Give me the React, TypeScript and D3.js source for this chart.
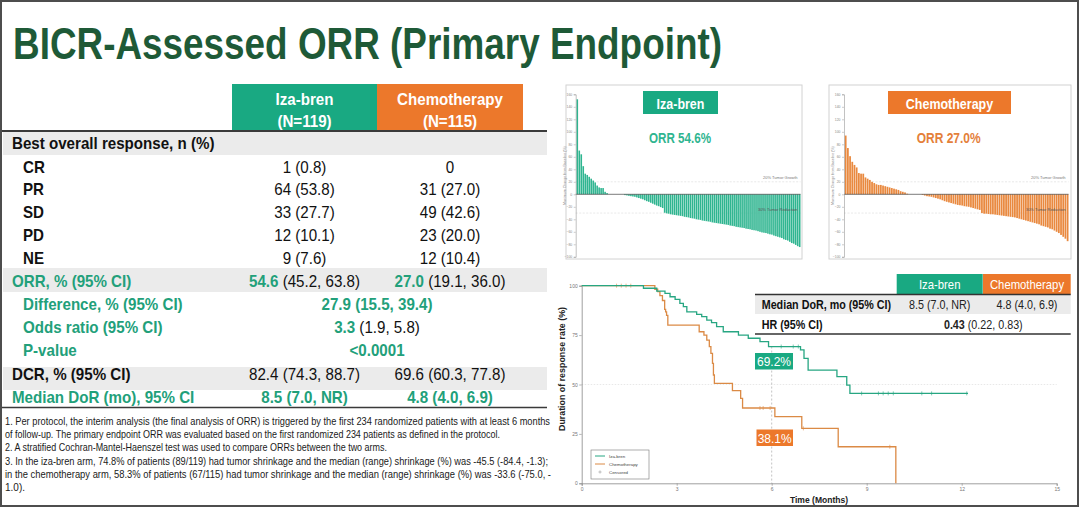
import React, { useEffect, useRef } from "react";
import * as d3 from "d3";

const FONT = "'Liberation Sans', Arial, Helvetica, sans-serif";
const GREEN = "#19a982";
const ORANGE = "#ec782b";
const DARK_GREEN = "#1e5a37";
const TEXT_GREEN = "#22a07a";
const ROW_GRAY = "#ebebeb";
const BAR_GREEN = "#2fb590";
const BAR_ORANGE = "#e9893f";
const KM_GREEN = "#27a682";
const KM_ORANGE = "#db8a45";

// ---- response table ----
const armNames = ["Iza-bren", "Chemotherapy"];
const armN = ["(N=119)", "(N=115)"];
const responseCats = ["CR", "PR", "SD", "PD", "NE"];
const izaResponse = ["1 (0.8)", "64 (53.8)", "33 (27.7)", "12 (10.1)", "9 (7.6)"];
const chemoResponse = ["0", "31 (27.0)", "49 (42.6)", "23 (20.0)", "12 (10.4)"];
const orrPoint = ["54.6", "27.0"];
const orrCI = ["(45.2, 63.8)", "(19.1, 36.0)"];
const diffValue = "27.9 (15.5, 39.4)";
const oddsPoint = "3.3";
const oddsCI = "(1.9, 5.8)";
const pValue = "<0.0001";
const dcrValues = ["82.4 (74.3, 88.7)", "69.6 (60.3, 77.8)"];
const medianDoR = ["8.5 (7.0, NR)", "4.8 (4.0, 6.9)"];

const footnotes = [
  "1. Per protocol, the interim analysis (the final analysis of ORR) is triggered by the first 234 randomized patients with at least 6 months",
  "of follow-up. The primary endpoint ORR was evaluated based on the first randomized 234 patients as defined in the protocol.",
  "2. A stratified Cochran-Mantel-Haenszel test was used to compare ORRs between the two arms.",
  "3. In the iza-bren arm, 74.8% of patients (89/119) had tumor shrinkage and the median (range) shrinkage (%) was -45.5 (-84.4, -1.3);",
  "in the chemotherapy arm, 58.3% of patients (67/115) had tumor shrinkage and the median (range) shrinkage (%) was -33.6 (-75.0, -",
  "1.0).",
];
const footnoteWidths = [545, 495, 382, 543, 546, 20];

// ---- waterfall: best % change from baseline, per patient ----
const izaChange = [
  152, 70, 64, 45, 33, 31, 28, 25, 22, 19, 14, 11, 10, 10, 4, 2,
  0, 0, 0, 0, 0, 0, 0, 0,
  -1.3, -1.8, -2.5, -3, -3.5, -4, -5, -6, -7, -8, -9.5, -11, -12, -13.5, -15, -16.5, -18, -19,
  -20.5, -22, -29.5, -30.5, -31, -32, -32.5, -33, -33.5, -34, -34.5, -35, -36, -36.5, -37, -38,
  -38.5, -39, -40, -40.5, -41, -42, -42.5, -43, -43.5, -44, -45, -45.5, -46, -46.5, -47, -47.5, -48,
  -48.5, -49, -50, -50.5, -51, -52, -52.5, -53, -53.5, -54, -55, -55.5, -56, -57, -57.5, -58,
  -59, -60, -61, -61.5, -62, -63, -64, -64.5, -66, -67, -68, -69, -70, -72, -73, -74,
  -76, -78, -79, -81, -83, -84.4,
];
const chemoChange = [
  94, 74, 61, 52, 47, 43, 34, 33, 33, 27, 25, 23, 20, 18, 16, 15, 15, 14, 13, 12, 11, 10, 9, 8, 7, 5, 4, 3, 1,
  0, 0, 0, 0, 0, 0,
  -1, -2, -3, -3.5, -4, -5, -6, -7, -8, -9.5, -11, -12, -13, -14, -15, -16, -17, -17.5, -18, -19, -19.5, -20,
  -21, -22, -23, -24, -25, -30, -31, -31, -31.5, -32, -32, -32.5, -33, -33.5, -34,
  -34.5, -35, -35.5, -36, -36.5, -37, -38, -39, -40, -41, -42, -43, -44, -45, -46,
  -47, -48, -50, -51, -52, -53, -55, -56, -58, -60, -62, -65, -68, -71, -75,
];
const wfTicks = [-100, -80, -60, -40, -20, 0, 20, 40, 60, 80, 100, 120, 140, 160];

// ---- Kaplan-Meier duration of response ----
const izaTimes = [0, 1.95, 2.37, 2.63, 2.79, 2.95, 3.1, 3.21, 3.32, 3.63, 3.79, 3.95, 4.1, 4.26, 4.47, 4.95, 5.26, 5.63, 5.9, 6.91, 7.02, 7.15, 8.06, 8.37, 8.47, 12.2];
const izaSurv = [100, 98.7, 97.3, 96.1, 94.4, 93.1, 91.1, 89.4, 86.8, 85.5, 84.3, 82.6, 81.3, 79.3, 76.7, 75, 73.4, 71.7, 69.2, 67.5, 63.2, 57.3, 54, 49.7, 45.5, 45.5];
const chemoTimes = [0, 2.31, 2.4, 2.47, 2.55, 2.62, 2.65, 2.68, 2.72, 3.71, 3.86, 3.95, 4.03, 4.08, 4.13, 4.16, 4.19, 4.76, 5.02, 5.08, 6.1, 6.95, 8.1, 9.92];
const chemoSurv = [100, 98.2, 97, 95, 92.5, 88, 86.8, 85, 80, 76.7, 75, 72.5, 69.2, 65.8, 60.7, 54.8, 50.6, 46.9, 43, 38.1, 33.7, 27.8, 18.5, 0];
const izaCensor = [6.3, 6.68, 6.84, 8.84, 9.37, 9.52, 9.68, 9.84, 10.74, 11.05, 12.16];
const chemoCensor = [1.1, 1.25, 1.4, 1.55, 5.63, 5.73, 5.95, 7.0, 9.73];
const kmXTicks = [0, 3, 6, 9, 12, 15];
const kmYTicks = [0, 25, 50, 75, 100];
const landmark = { t: 6, iza: "69.2%", chemo: "38.1%", izaS: 69.2, chemoS: 38.1 };
const kmStats = { label1: "Median DoR, mo (95% CI)", label2: "HR (95% CI)", hr: "0.43", hrCI: "(0.22, 0.83)" };
const legendItems = ["Iza-bren", "Chemotherapy"];

type Seg = { t: string; b?: boolean; c?: string };

function say(parent: any, x: number, y: number, segs: Seg[] | string, size: number, o: any = {}) {
  const list: Seg[] = typeof segs === "string" ? [{ t: segs }] : segs;
  const sx = o.len ? 1 : o.sx ?? 0.89;
  const g = parent.append("g").attr("transform", `translate(${x},${y}) scale(${sx},1)`);
  const t = g
    .append("text")
    .attr("font-family", FONT)
    .attr("font-size", size)
    .attr("text-anchor", o.anchor || "start")
    .attr("fill", o.fill || "#111")
    .attr("font-weight", o.bold ? "bold" : "normal")
    .style("white-space", "pre");
  list.forEach((s) => {
    const sp = t.append("tspan").text(s.t);
    if (s.b !== undefined) sp.attr("font-weight", s.b ? "bold" : "normal");
    if (s.c) sp.attr("fill", s.c);
  });
  if (o.len) t.attr("textLength", o.len).attr("lengthAdjust", "spacingAndGlyphs");
  if (o.rotate) g.attr("transform", `translate(${x},${y}) rotate(${o.rotate})`);
  return t;
}

function waterfall(svg: any, cfg: any) {
  const { box, axisX, endX, values, color } = cfg;
  const g = svg.append("g");
  g.append("rect")
    .attr("x", box[0]).attr("y", box[1])
    .attr("width", box[2] - box[0]).attr("height", box[3] - box[1])
    .attr("fill", "#fff").attr("stroke", "#d2d2d2").attr("stroke-width", 1);

  const y = d3.scaleLinear().domain([-100, 160]).range([256.8, 94.3]);
  const x = d3.scaleBand<number>().domain(d3.range(values.length)).range([axisX + 0.8, endX]).paddingInner(0.2);

  // reference lines
  [20, -30].forEach((v) => {
    g.append("line")
      .attr("x1", axisX).attr("x2", endX)
      .attr("y1", y(v)).attr("y2", y(v))
      .attr("stroke", "#d8d8d8").attr("stroke-width", 0.6).attr("stroke-dasharray", "2,1.5");
  });

  g.selectAll("rect.bar")
    .data(values)
    .join("rect")
    .attr("class", "bar")
    .attr("x", (d: number, i: number) => x(i))
    .attr("width", x.bandwidth())
    .attr("y", (d: number) => y(Math.max(0, d)))
    .attr("height", (d: number) => Math.abs(y(d) - y(0)))
    .attr("fill", color);

  g.append("line")
    .attr("x1", axisX).attr("x2", endX)
    .attr("y1", y(0)).attr("y2", y(0))
    .attr("stroke", "#444").attr("stroke-width", 0.7);

  say(g, endX - 3, y(20) - 2.5, "20% Tumor Growth", 4, { anchor: "end", fill: "#777", sx: 1 });
  say(g, endX - 3, y(-30) - 2.5, "30% Tumor Reduction", 4, { anchor: "end", fill: "#555", sx: 1 });

  const ax = g.append("g")
    .attr("transform", `translate(${axisX},0)`)
    .call(d3.axisLeft(y).tickValues(wfTicks).tickSize(2).tickPadding(1.5));
  ax.select(".domain").attr("stroke", "#999").attr("stroke-width", 0.6);
  ax.selectAll(".tick line").attr("stroke", "#999").attr("stroke-width", 0.5);
  ax.selectAll(".tick text").attr("font-size", 3.4).attr("fill", "#888").attr("font-family", FONT);

  say(g, axisX - 10, (y(-100) + y(160)) / 2, "Maximum Change from Baseline (%)", 3.6, {
    anchor: "middle", fill: "#888", rotate: -90,
  });

  // title box + ORR
  const tb = cfg.titleBox;
  g.append("rect").attr("x", tb[0]).attr("y", tb[1]).attr("width", tb[2] - tb[0]).attr("height", tb[3] - tb[1]).attr("fill", color === BAR_GREEN ? GREEN : ORANGE);
  say(g, (tb[0] + tb[2]) / 2, 108.5, cfg.title, 14.5, { anchor: "middle", fill: "#fff", bold: true, sx: 0.86 });
  say(g, cfg.orrX - cfg.orrLen / 2, 143, cfg.orr, 14.5, { fill: cfg.orrColor, bold: true, len: cfg.orrLen });
}

export default function App() {
  const ref = useRef<SVGSVGElement>(null);

  useEffect(() => {
    const svg = d3.select(ref.current);
    svg.selectAll("*").remove();

    svg.append("rect").attr("width", 1080).attr("height", 508).attr("fill", "#fff");

    // ---- title ----
    say(svg, 13, 59, "BICR-Assessed ORR (Primary Endpoint)", 44, { fill: DARK_GREEN, bold: true, len: 709 });

    // ---- table ----
    const colX = [304.5, 450];
    const mergedX = 377;
    const tableR = 547;

    svg.append("rect").attr("x", 232).attr("y", 84).attr("width", 145).attr("height", 47).attr("fill", GREEN);
    svg.append("rect").attr("x", 377).attr("y", 84).attr("width", 146).attr("height", 47).attr("fill", ORANGE);
    armNames.forEach((n, i) => {
      say(svg, colX[i], 105, n, 17, { anchor: "middle", fill: "#fff", bold: true });
      say(svg, colX[i], 127, armN[i], 17, { anchor: "middle", fill: "#fff", bold: true });
    });

    [[131, 155], [268, 292], [367, 390]].forEach(([a, b]) => {
      svg.append("rect").attr("x", 3).attr("y", a).attr("width", tableR - 3).attr("height", b - a).attr("fill", ROW_GRAY);
    });
    svg.append("line").attr("x1", 2).attr("x2", tableR).attr("y1", 131).attr("y2", 131).attr("stroke", "#3a3a3a").attr("stroke-width", 2);

    say(svg, 12, 149, "Best overall response, n (%)", 17, { bold: true });
    responseCats.forEach((c, i) => {
      const yy = 172.7 + i * 22.7;
      say(svg, 23, yy, c, 17, { bold: true });
      say(svg, colX[0], yy, izaResponse[i], 17, { anchor: "middle" });
      say(svg, colX[1], yy, chemoResponse[i], 17, { anchor: "middle" });
    });

    say(svg, 12, 286.7, "ORR, % (95% CI)", 17, { bold: true, fill: TEXT_GREEN });
    orrPoint.forEach((p, i) => {
      say(svg, colX[i], 286.7, [{ t: p, b: true, c: TEXT_GREEN }, { t: " " + orrCI[i] }], 17, { anchor: "middle" });
    });

    say(svg, 23, 309.5, "Difference, % (95% CI)", 17, { bold: true, fill: TEXT_GREEN });
    say(svg, mergedX, 309.5, diffValue, 17, { bold: true, fill: TEXT_GREEN, anchor: "middle" });
    say(svg, 23, 332.5, "Odds ratio (95% CI)", 17, { bold: true, fill: TEXT_GREEN });
    say(svg, mergedX, 332.5, [{ t: oddsPoint, b: true, c: TEXT_GREEN }, { t: " " + oddsCI }], 17, { anchor: "middle" });
    say(svg, 23, 355.5, "P-value", 17, { bold: true, fill: TEXT_GREEN });
    say(svg, mergedX, 355.5, pValue, 17, { bold: true, fill: TEXT_GREEN, anchor: "middle" });

    say(svg, 12, 379.5, "DCR, % (95% CI)", 17, { bold: true });
    dcrValues.forEach((v, i) => say(svg, colX[i], 379.5, v, 17, { anchor: "middle" }));

    say(svg, 12, 402.5, "Median DoR (mo), 95% CI", 17, { bold: true, fill: TEXT_GREEN });
    medianDoR.forEach((v, i) => say(svg, colX[i], 402.5, v, 17, { anchor: "middle", bold: true, fill: TEXT_GREEN }));

    svg.append("line").attr("x1", 2).attr("x2", tableR).attr("y1", 407.5).attr("y2", 407.5).attr("stroke", "#3a3a3a").attr("stroke-width", 1.5);

    footnotes.forEach((f, i) => {
      say(svg, 5, 425 + i * 13.2, f, 10.5, { len: footnoteWidths[i], fill: "#1a1a1a" });
    });

    // ---- waterfalls ----
    waterfall(svg, {
      box: [566, 85, 802, 259], axisX: 575.7, endX: 800.5, values: izaChange, color: BAR_GREEN,
      titleBox: [643, 91, 718, 114], title: "Iza-bren", orr: "ORR 54.6%", orrX: 680, orrLen: 62, orrColor: BAR_GREEN,
    });
    waterfall(svg, {
      box: [829, 85, 1071, 259], axisX: 844, endX: 1068.5, values: chemoChange, color: BAR_ORANGE,
      titleBox: [888, 91, 1011, 114], title: "Chemotherapy", orr: "ORR 27.0%", orrX: 948.7, orrLen: 64, orrColor: "#e4803a",
    });

    // ---- KM plot ----
    const x = d3.scaleLinear().domain([0, 15]).range([581.7, 1056.7]);
    const y = d3.scaleLinear().domain([0, 100]).range([483.3, 285.7]);
    const km = svg.append("g");

    km.append("line")
      .attr("x1", x(0)).attr("x2", x(15)).attr("y1", y(50)).attr("y2", y(50))
      .attr("stroke", "#e2e2e2").attr("stroke-width", 0.8).attr("stroke-dasharray", "1.5,1.5");
    km.append("line")
      .attr("x1", x(landmark.t)).attr("x2", x(landmark.t)).attr("y1", y(landmark.izaS)).attr("y2", y(0))
      .attr("stroke", "#aaa").attr("stroke-width", 0.7).attr("stroke-dasharray", "2,2");

    const xa = km.append("g").attr("transform", `translate(0,${y(0)})`)
      .call(d3.axisBottom(x).tickValues(kmXTicks).tickSize(2.5).tickPadding(2));
    const ya = km.append("g").attr("transform", `translate(${x(0)},0)`)
      .call(d3.axisLeft(y).tickValues(kmYTicks).tickSize(2.5).tickPadding(1.5));
    [xa, ya].forEach((a) => {
      a.select(".domain").attr("stroke", "#888").attr("stroke-width", 0.8);
      a.selectAll(".tick line").attr("stroke", "#888").attr("stroke-width", 0.6);
      a.selectAll(".tick text").attr("font-size", 5).attr("fill", "#777").attr("font-family", FONT);
    });

    say(km, 565, 369, "Duration of response rate (%)", 8.5, { anchor: "middle", bold: true, rotate: -90, fill: "#222", len: 124 });
    say(km, 819, 502.5, "Time (Months)", 9, { anchor: "middle", bold: true, fill: "#222", sx: 0.95 });

    const line = d3.line<number>().curve(d3.curveStepAfter);
    const arms = [
      { times: izaTimes, surv: izaSurv, censor: izaCensor, color: KM_GREEN },
      { times: chemoTimes, surv: chemoSurv, censor: chemoCensor, color: KM_ORANGE },
    ];
    arms.slice().reverse().forEach((a) => {
      const pts = a.times.map((t, i) => [x(t), y(a.surv[i])] as [number, number]);
      km.append("path").attr("d", line(pts as any)).attr("fill", "none").attr("stroke", a.color).attr("stroke-width", 1.3);
      a.censor.forEach((t) => {
        const s = a.surv[d3.bisectRight(a.times, t) - 1];
        km.append("line").attr("x1", x(t)).attr("x2", x(t)).attr("y1", y(s) - 2).attr("y2", y(s) + 2)
          .attr("stroke", a.color).attr("stroke-width", 0.6);
      });
    });

    // landmark labels
    km.append("rect").attr("x", 755).attr("y", 353).attr("width", 38).attr("height", 16.5).attr("fill", GREEN);
    say(km, 774, 366, landmark.iza, 13.5, { anchor: "middle", fill: "#fff" });
    km.append("rect").attr("x", 756.5).attr("y", 429.5).attr("width", 36.5).attr("height", 16.5).attr("fill", ORANGE);
    say(km, 774.7, 442.5, landmark.chemo, 13.5, { anchor: "middle", fill: "#fff" });

    // legend
    const lg = km.append("g");
    lg.append("rect").attr("x", 591).attr("y", 450).attr("width", 58).attr("height", 29).attr("fill", "#fff").attr("stroke", "#777").attr("stroke-width", 0.6);
    const legendColors = [KM_GREEN, KM_ORANGE];
    legendItems.forEach((n, i) => {
      const yy = 456 + i * 8;
      lg.append("line").attr("x1", 595).attr("x2", 605).attr("y1", yy).attr("y2", yy).attr("stroke", legendColors[i]).attr("stroke-width", 1);
      say(lg, 609, yy + 1.5, n, 4.4, { fill: "#444", sx: 1 });
    });
    lg.append("line").attr("x1", 600).attr("x2", 600).attr("y1", 470.4).attr("y2", 473.6).attr("stroke", "#888").attr("stroke-width", 0.5);
    lg.append("line").attr("x1", 598.4).attr("x2", 601.6).attr("y1", 472).attr("y2", 472).attr("stroke", "#888").attr("stroke-width", 0.5);
    say(lg, 609, 473.5, "Censored", 4.4, { fill: "#444", sx: 1 });

    // stats table
    const sx1 = 939.7, sx2 = 1027;
    km.append("rect").attr("x", 896.7).attr("y", 274).attr("width", 86).attr("height", 20.5).attr("fill", GREEN);
    km.append("rect").attr("x", 983).attr("y", 274).attr("width", 87.7).attr("height", 20.5).attr("fill", ORANGE);
    say(km, sx1, 289, armNames[0], 13, { anchor: "middle", fill: "#fff", sx: 0.87 });
    say(km, sx2, 289, armNames[1], 13, { anchor: "middle", fill: "#fff", sx: 0.87 });
    km.append("rect").attr("x", 755).attr("y", 295).attr("width", 315.7).attr("height", 19).attr("fill", ROW_GRAY);
    km.append("line").attr("x1", 755).attr("x2", 1070.7).attr("y1", 294.5).attr("y2", 294.5).attr("stroke", "#333").attr("stroke-width", 1.3);
    km.append("line").attr("x1", 755).attr("x2", 1070.7).attr("y1", 334).attr("y2", 334).attr("stroke", "#333").attr("stroke-width", 1.3);
    say(km, 761.7, 309.3, kmStats.label1, 12.5, { bold: true, sx: 0.86 });
    say(km, sx1, 309.3, medianDoR[0], 12.5, { anchor: "middle", sx: 0.86, fill: "#222" });
    say(km, sx2, 309.3, medianDoR[1], 12.5, { anchor: "middle", sx: 0.86, fill: "#222" });
    say(km, 761.7, 329.3, kmStats.label2, 12.5, { bold: true, sx: 0.86 });
    say(km, 983.3, 329.3, [{ t: kmStats.hr, b: true }, { t: " " + kmStats.hrCI }], 12.5, { anchor: "middle", sx: 0.86, fill: "#222" });

    // slide frame
    svg.append("rect").attr("x", 1).attr("y", 1).attr("width", 1077).attr("height", 505)
      .attr("fill", "none").attr("stroke", "#4d4d4d").attr("stroke-width", 2);
  }, []);

  return (
    <svg
      ref={ref}
      width={1080}
      height={508}
      style={{ position: "absolute", left: 0, top: 0, display: "block" }}
    />
  );
}
